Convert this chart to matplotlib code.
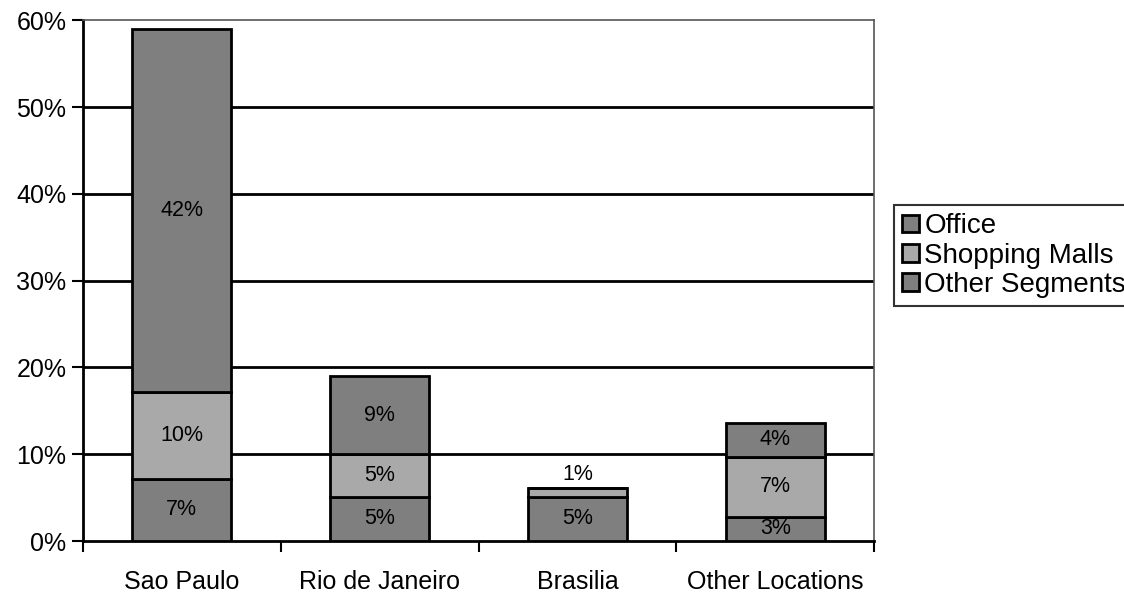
import matplotlib
matplotlib.use("Agg")
import matplotlib.pyplot as plt
import numpy as np

categories = ["Sao Paulo", "Rio de Janeiro", "Brasilia", "Other Locations"]
other_segments = [7.2, 5.1, 5.1, 2.8]
shopping_malls = [10.0, 4.9, 1.0, 6.9]
office = [41.8, 9.0, 0.0, 3.9]
labels_other = ["7%", "5%", "5%", "3%"]
labels_malls = ["10%", "5%", "1%", "7%"]
labels_office = ["42%", "9%", "", "4%"]
yticks = [0, 10, 20, 30, 40, 50, 60]

dark = "#7f7f7f"
light = "#a9a9a9"

plt.rcParams['font.family'] = ['Liberation Sans', 'DejaVu Sans']
fig = plt.figure(figsize=(11.24, 5.94), dpi=100)
ax = fig.add_axes([0.0738, 0.089, 0.704, 0.877])

x = np.arange(len(categories))
w = 0.5
b1 = ax.bar(x, other_segments, w, color=dark, edgecolor="black", linewidth=2, label="Other Segments", zorder=3)
bot2 = np.array(other_segments)
b2 = ax.bar(x, shopping_malls, w, bottom=bot2, color=light, edgecolor="black", linewidth=2, label="Shopping Malls", zorder=3)
bot3 = bot2 + np.array(shopping_malls)
b3 = ax.bar(x, office, w, bottom=bot3, color=dark, edgecolor="black", linewidth=2, label="Office", zorder=3)

fs = 18
fsl = 15.5
for i in range(len(categories)):
    ax.text(x[i], other_segments[i] / 2, labels_other[i], ha="center", va="center", fontsize=fsl, zorder=4)
    if shopping_malls[i] >= 2:
        ax.text(x[i], bot2[i] + shopping_malls[i] / 2, labels_malls[i], ha="center", va="center", fontsize=fsl, zorder=4)
    else:
        ax.text(x[i], bot3[i] + 0.4, labels_malls[i], ha="center", va="bottom", fontsize=fsl, zorder=4)
    if office[i] > 0:
        ax.text(x[i], bot3[i] + office[i] / 2, labels_office[i], ha="center", va="center", fontsize=fsl, zorder=4)

ax.set_ylim(0, 60)
ax.set_xlim(-0.5, len(categories) - 0.5)
ax.set_yticks(yticks)
ax.set_yticklabels([f"{t}%" for t in yticks], fontsize=fs)
for t in yticks[1:-1]:
    ax.axhline(t, color="black", linewidth=2, zorder=1)

ax.set_xticks(x)
ax.set_xticklabels(categories, fontsize=fs)
ax.tick_params(axis="x", length=0, pad=21)
ax.set_xticks(np.arange(-0.5, len(categories)), minor=True)
ax.tick_params(axis="x", which="minor", length=8, width=1.5, direction="out")
ax.tick_params(axis="y", length=8, width=1.5, direction="out", pad=4)

ax.spines["left"].set_linewidth(2)
ax.spines["bottom"].set_linewidth(2)
ax.spines["top"].set_linewidth(1.2)
ax.spines["top"].set_color("#555555")
ax.spines["right"].set_linewidth(1.2)
ax.spines["right"].set_color("#555555")

handles = [b3, b2, b1]
leg = fig.legend(handles, ["Office", "Shopping Malls", "Other Segments"],
                 loc="upper left", bbox_to_anchor=(0.795, 0.655), fontsize=20,
                 frameon=True, fancybox=False, edgecolor="black",
                 handlelength=0.6, handleheight=0.6, handletextpad=0.2,
                 labelspacing=0.12, borderpad=0.3, borderaxespad=0)
leg.get_frame().set_linewidth(1.5)

fig.savefig("out.png", dpi=100)
